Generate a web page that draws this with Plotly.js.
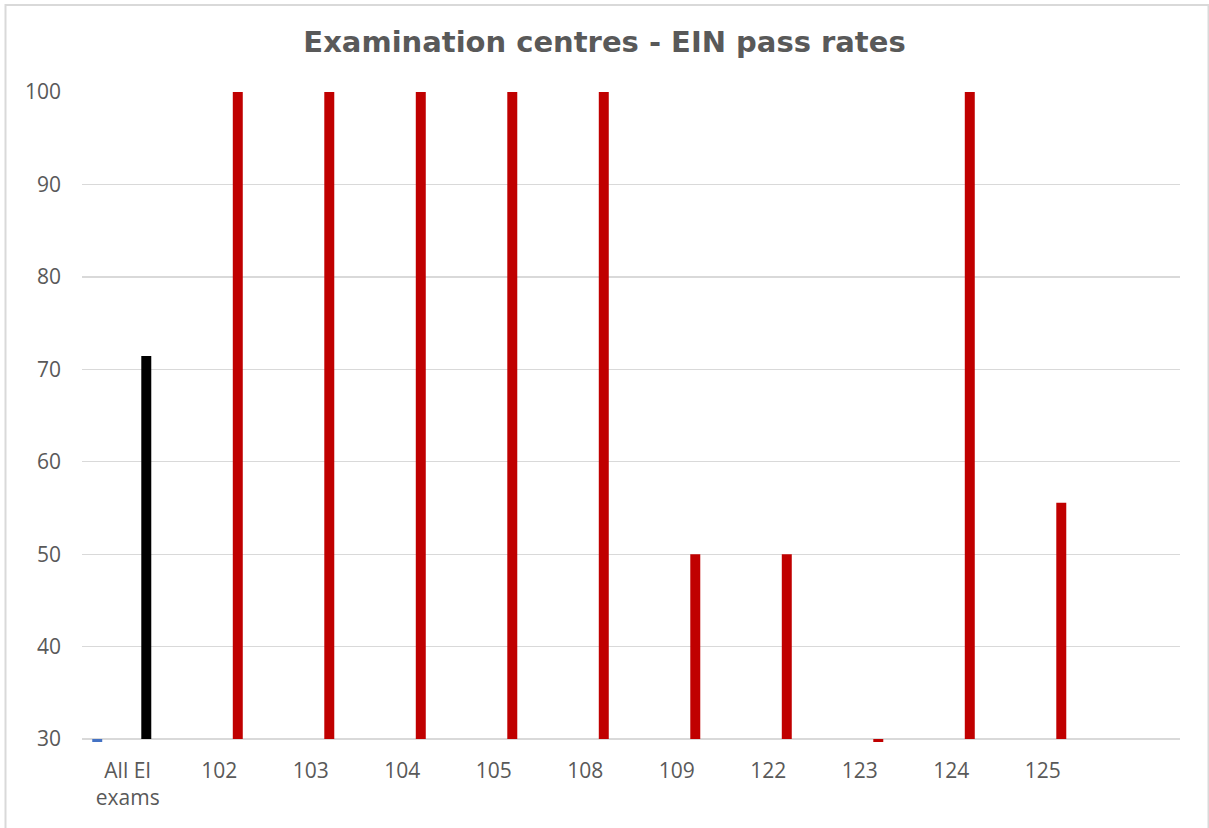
<!DOCTYPE html>
<html>
<head>
<meta charset="utf-8">
<script src="https://cdn.plot.ly/plotly-3.0.1.min.js"></script>
<style>
  html, body { margin: 0; padding: 0; background: #ffffff; }
  #chart { width: 1209px; height: 828px; }
</style>
</head>
<body>
<div id="chart"></div>
<script>
// ---- Data ----
const categories = ["All EI exams", "102", "103", "104", "105", "108", "109", "122", "123", "124", "125"];
const tickLabels = ["All EI<br>exams", "102", "103", "104", "105", "108", "109", "122", "123", "124", "125"];
const overallSeries = [0, null, null, null, null, null, null, null, null, null, null];
const passRates = [71.43, 100, 100, 100, 100, 100, 50, 50, 0, 100, 55.56];
const yTickValues = [30, 40, 50, 60, 70, 80, 90, 100];

// ---- Styling ----
const AXIS_MIN = 30;
const W = 1209, H = 828;
const M = { l: 82, r: 29, t: 92, b: 86 };
const plotW = W - M.l - M.r;
const plotH = H - M.t - M.b;
const barColors = categories.map((c, i) => i === 0 ? "#000000" : "#C00000");

const traces = [
  {
    type: "bar",
    name: "Overall",
    x: categories,
    y: overallSeries.map(v => v === null ? null : v - AXIS_MIN),
    base: AXIS_MIN,
    offset: -0.388,
    width: 0.109,
    marker: { color: "#4472C4", line: { width: 0 } },
    hoverinfo: "skip"
  },
  {
    type: "bar",
    name: "Pass rate",
    x: categories,
    y: passRates.map(v => v - AXIS_MIN),
    base: AXIS_MIN,
    offset: 0.148,
    width: 0.109,
    marker: { color: barColors, line: { width: 0 } },
    customdata: passRates,
    hovertemplate: "%{x}: %{customdata}<extra></extra>"
  }
];

// border of chart area in paper coords
const px = x => (x - M.l) / plotW;
const py = y => 1 - (y - M.t) / plotH;

const layout = {
  width: W,
  height: H,
  margin: M,
  paper_bgcolor: "#ffffff",
  plot_bgcolor: "#ffffff",
  showlegend: false,
  barmode: "overlay",
  font: { family: "Open Sans, sans-serif", color: "#595959", size: 21 },
  title: {
    text: "<b>Examination centres - EIN pass rates</b>",
    font: { family: "DejaVu Sans, Verdana, sans-serif", size: 29, color: "#595959" },
    x: 0.5,
    xanchor: "center",
    xref: "container",
    yref: "container",
    y: 1 - 42 / H,
    yanchor: "middle"
  },
  xaxis: {
    type: "category",
    categoryorder: "array",
    categoryarray: categories,
    tickvals: categories,
    ticktext: tickLabels,
    range: [-0.5, 11.5],
    showgrid: false,
    showline: false,
    zeroline: false,
    ticks: "",
    ticklabelstandoff: 14,
    tickfont: { family: "Open Sans, sans-serif", size: 21, color: "#595959" },
    fixedrange: true
  },
  yaxis: {
    range: [29.68, 100],
    tickvals: yTickValues,
    ticktext: yTickValues.map(String),
    showgrid: true,
    gridcolor: "#D9D9D9",
    gridwidth: 1.3,
    zeroline: false,
    showline: false,
    ticks: "",
    ticklabelstandoff: 20,
    tickfont: { family: "Open Sans, sans-serif", size: 21, color: "#595959" },
    fixedrange: true
  },
  shapes: [
    {
      type: "rect",
      xref: "paper", yref: "paper",
      x0: px(5.5), x1: px(1208.5),
      y0: py(840), y1: py(5),
      line: { color: "#D9D9D9", width: 2 },
      fillcolor: "rgba(0,0,0,0)",
      layer: "below"
    }
  ]
};

Plotly.newPlot("chart", traces, layout, { displayModeBar: false, staticPlot: true });
</script>
</body>
</html>
